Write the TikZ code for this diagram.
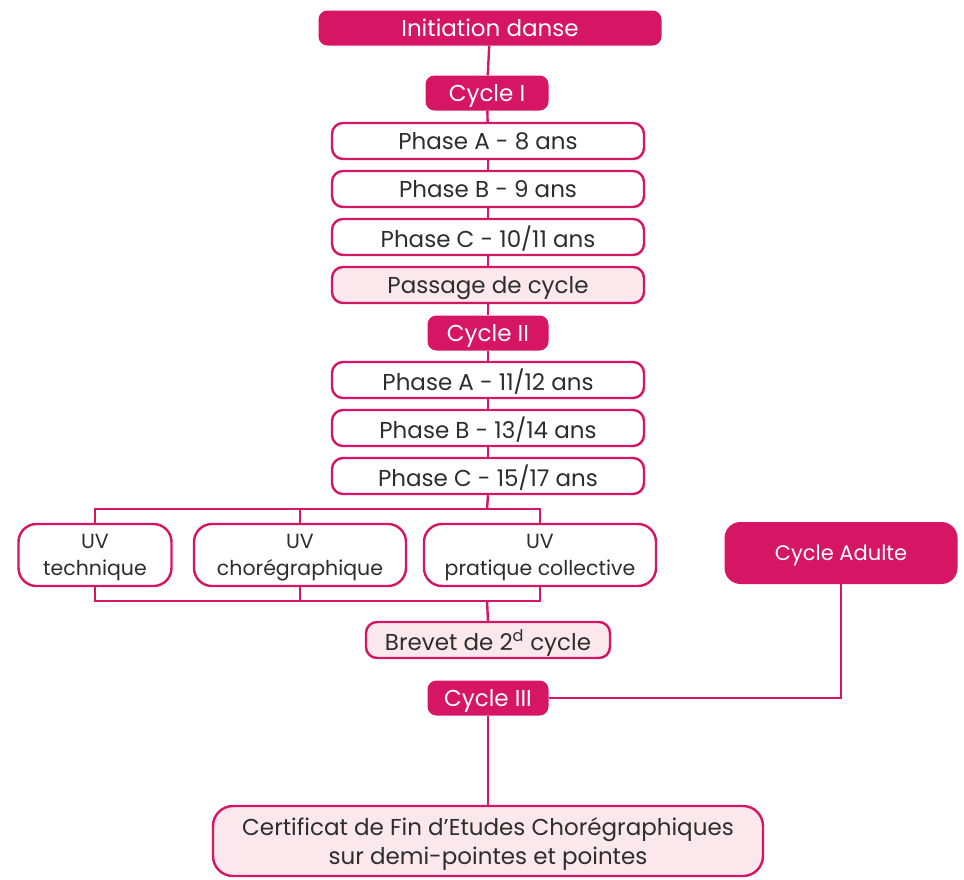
\documentclass[tikz,border=0pt]{standalone}
\usepackage{fontspec}
\setmainfont{Poppins}
\usepackage{xcolor}
\definecolor{danse}{RGB}{214,22,100}
\definecolor{rosepale}{RGB}{251,232,237}
\definecolor{texte}{RGB}{45,45,45}

\tikzset{
  cycle/.style={fill=danse,text=white,rounded corners=9pt,minimum height=35pt,inner sep=2pt,text depth=0pt,font=\fontsize{23}{26}\selectfont},
  phase/.style={draw=danse,line width=2.4pt,fill=white,text=texte,rounded corners=11pt,minimum width=312pt,minimum height=36pt,inner sep=2pt,text depth=0pt,font=\fontsize{23}{26}\selectfont},
  passage/.style={phase,fill=rosepale},
  uv/.style={phase,minimum width=0pt,minimum height=62pt,rounded corners=18pt,align=center,font=\fontsize{20.5}{27}\selectfont},
  lien/.style={draw=danse,line width=2.4pt}
}

\begin{document}
\begin{tikzpicture}[x=1pt,y=-1pt]
\useasboundingbox (0,0) rectangle (964,879);
%cycle I
\node[cycle,minimum width=343pt] (init) at (490,28) {Initiation danse};
\node[cycle,minimum width=123pt] (cyc1) at (487,93) {Cycle I};
\node[phase] (pA1) at (488,141) {Phase A - 8 ans};
\node[phase] (pB1) at (488,189) {Phase B - 9 ans};
\node[phase] (pC1) at (488,237) {Phase C - 10/11 ans};
\node[passage] (pass) at (488,285) {Passage de cycle};
%cycle II
\node[cycle,minimum width=121pt] (cyc2) at (488,333) {Cycle II};
\node[phase] (pA2) at (488,380) {Phase A - 11/12 ans};
\node[phase] (pB2) at (488,428) {Phase B - 13/14 ans};
\node[phase] (pC2) at (488,476) {Phase C - 15/17 ans};
%UV
\node[uv,minimum width=153pt] (uvt) at (95,555) {UV\\technique};
\node[uv,minimum width=212pt] (uvc) at (300,555) {UV\\chorégraphique};
\node[uv,minimum width=232pt] (uvp) at (540,555) {UV\\pratique collective};
\node[passage,minimum width=244pt] (brevet) at (488,640) {Brevet de 2\textsuperscript{d} cycle};
%adulte
\node[cycle,minimum width=233pt,minimum height=62pt,rounded corners=16pt,font=\fontsize{21}{24}\selectfont] (adulte) at (841,553) {Cycle Adulte};
%cycle III
\node[cycle,minimum width=121pt] (cyc3) at (488,698) {Cycle III};
\node[passage,minimum width=550pt,minimum height=70pt,rounded corners=20pt,align=center,font=\fontsize{23}{29}\selectfont] (cert) at (488,841) {Certificat de Fin d'Etudes Chorégraphiques\\sur demi-pointes et pointes};

\coordinate (split) at (487,509);
\coordinate (merge) at (487,601);

\begin{scope}[lien]
    \draw (init) -- (cyc1);
    \draw (cyc1) -- (pA1);
    \draw (pA1) -- (pB1);
    \draw (pB1) -- (pC1);
    \draw (pC1) -- (pass);
    \draw (pass) -- (cyc2);
    \draw (cyc2) -- (pA2);
    \draw (pA2) -- (pB2);
    \draw (pB2) -- (pC2);
    %branches UV
    \draw (pC2.south) -- (split);
    \draw (uvt.north) |- (split) -| (uvp.north);
    \draw (uvc.north) -- (uvc.north |- split);
    \draw (uvt.south) |- (merge) -| (uvp.south);
    \draw (uvc.south) -- (uvc.south |- merge);
    \draw (merge) -- (brevet.north);
    %cycle III
    \draw (adulte.south) |- (cyc3.east);
    \draw (cyc3) -- (cert);
\end{scope}
\end{tikzpicture}
\end{document}
